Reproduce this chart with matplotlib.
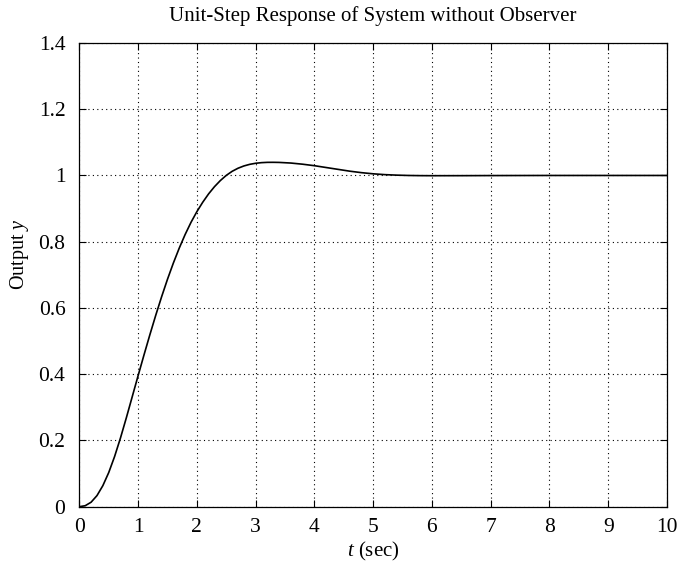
import matplotlib
matplotlib.use("Agg")
import matplotlib.pyplot as plt
from matplotlib.ticker import FuncFormatter

# Step response values
t = [0.0, 0.1, 0.2, 0.3, 0.4, 0.5, 0.6, 0.7, 0.8, 0.9,
     1.0, 1.1, 1.2, 1.3, 1.4, 1.5, 1.6, 1.7, 1.8, 1.9,
     2.0, 2.1, 2.2, 2.3, 2.4, 2.5, 2.6, 2.7, 2.8, 2.9,
     3.0, 3.1, 3.2, 3.3, 3.4, 3.6, 3.8, 4.0, 4.2, 4.4,
     4.6, 4.8, 5.0, 5.2, 5.4, 5.6, 5.8, 6.0, 6.5, 7.0,
     8.0, 9.0, 10.0]
y = [0.0, 0.003, 0.0135, 0.0335, 0.0635, 0.103, 0.1515, 0.2075, 0.2685, 0.332,
     0.3955, 0.458, 0.519, 0.5778, 0.6338, 0.6866, 0.7356, 0.7806, 0.8216, 0.8584,
     0.8907, 0.9192, 0.9445, 0.9662, 0.9847, 1.0002, 1.0125, 1.0218, 1.0287, 1.0336,
     1.0368, 1.0387, 1.0396, 1.0397, 1.0394, 1.0375, 1.034, 1.0295, 1.024, 1.0185,
     1.013, 1.0085, 1.005, 1.0025, 1.001, 1.0, 0.9995, 0.9993, 0.9994, 0.9997,
     1.0, 1.0, 1.0]

x_ticks = [0, 1, 2, 3, 4, 5, 6, 7, 8, 9, 10]
y_ticks = [0, 0.2, 0.4, 0.6, 0.8, 1.0, 1.2, 1.4]

title = "Unit-Step Response of System without Observer"
xlabel = r"$t$ (sec)"
ylabel = r"Output $y$"

plt.rcParams['font.family'] = ['Liberation Serif', 'DejaVu Serif']
plt.rcParams['mathtext.fontset'] = 'custom'
plt.rcParams['mathtext.rm'] = 'Liberation Serif'
plt.rcParams['mathtext.it'] = 'Liberation Serif:italic'

fig = plt.figure(figsize=(6.81, 5.64), dpi=100)
ax = fig.add_axes([0.1165, 0.1016, 0.8629, 0.8222])

ax.plot(t, y, color='black', linewidth=1.2)

ax.set_xlim(0, 10)
ax.set_ylim(0, 1.4)
ax.set_xticks(x_ticks)
ax.set_yticks(y_ticks)
ax.yaxis.set_major_formatter(FuncFormatter(lambda v, p: "%g" % round(v, 2)))
ax.grid(True, linestyle=(0, (1, 3)), color='black', linewidth=0.8)
ax.tick_params(direction='in', top=True, right=True, length=5, width=0.8,
               labelsize=15.5)
ax.tick_params(axis='y', pad=10)
ax.tick_params(axis='x', pad=8)
for s in ax.spines.values():
    s.set_linewidth(0.9)

ax.set_title(title, fontsize=15, pad=16)
ax.set_xlabel(xlabel, fontsize=15, labelpad=2)
ax.set_ylabel(ylabel, fontsize=14.5)
ax.yaxis.set_label_coords(-0.082, 0.545)

fig.savefig("out.png", dpi=100)
